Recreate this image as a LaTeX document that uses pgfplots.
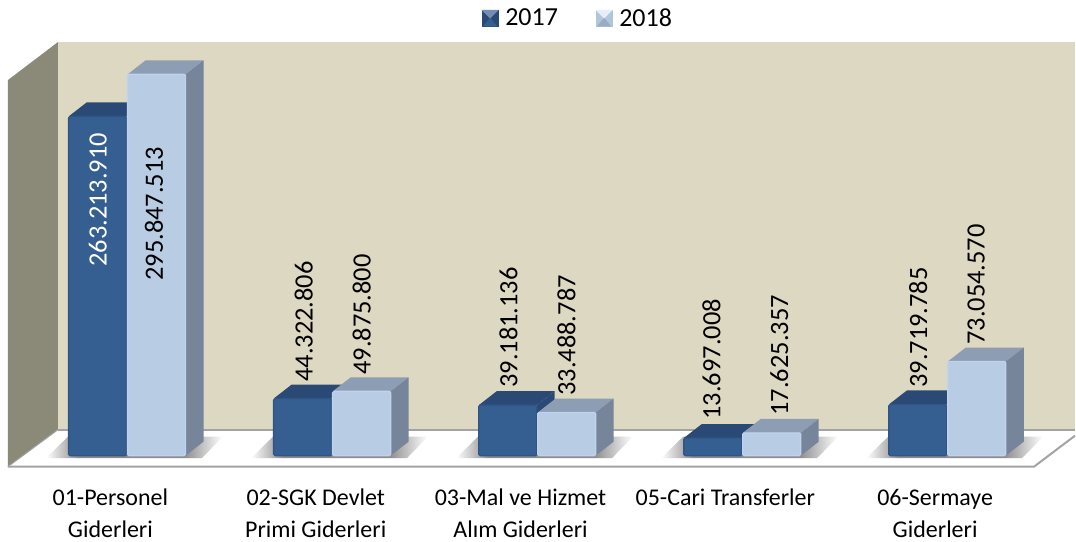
\documentclass[border=0pt]{standalone}
\usepackage{fontspec}
\setmainfont{Carlito}
\usepackage{pgfplots}
\pgfplotsset{compat=1.18}

\definecolor{wallback}{HTML}{DDD8C2}
\definecolor{wallside}{HTML}{8B8A78}
\definecolor{edgegray}{HTML}{A3A3A3}
\definecolor{bluefront}{HTML}{365F91}
\definecolor{blueedge}{HTML}{2F5585}
\definecolor{bluetop}{HTML}{2A4A75}
\definecolor{blueside}{HTML}{2A4A75}
\definecolor{lightfront}{HTML}{B8CCE4}
\definecolor{lightedge}{HTML}{BFD3EE}
\definecolor{lighttop}{HTML}{8D9DB3}
\definecolor{lightside}{HTML}{76859A}

\pgfdeclarehorizontalshading{floorshadow}{100bp}{
  color(0bp)=(white); color(25bp)=(white); color(34bp)=(black!45);
  color(64bp)=(black!45); color(75bp)=(white); color(100bp)=(white)}

% y is in millions, 1.29 px per million, floor line of the bars at pixel 456
\newcommand{\py}[1]{(456-#1)/1.29}

\newcommand{\shadow}[1]{%
  \pgfmathsetmacro\xa{#1-22}\pgfmathsetmacro\xb{#1+134}\pgfmathsetmacro\xc{#1+155}\pgfmathsetmacro\xd{#1}
  \pgfmathsetmacro\ya{\py{458.5}}\pgfmathsetmacro\yb{\py{437}}
  \addplot[forget plot,draw=none,shade,shading=floorshadow,no markers]
    coordinates {(\xa,\ya) (\xb,\ya) (\xc,\yb) (\xd,\yb)} -- cycle;
}

\newcommand{\cbar}[3]{% left, value, colour prefix
  \pgfmathsetmacro\xa{#1+0.7}\pgfmathsetmacro\xb{#1+58.7}
  \pgfmathsetmacro\xc{#1+18.7}\pgfmathsetmacro\xd{#1+76.7}
  \pgfmathsetmacro\yt{#2}\pgfmathsetmacro\yu{#2+14/1.29}
  \pgfmathsetmacro\yf{0}\pgfmathsetmacro\yg{14/1.29}
  \addplot[forget plot,fill=#3top,draw=none,no markers]
    coordinates {(\xa,\yt) (\xc,\yu) (\xd,\yu) (\xb,\yt)} -- cycle;
  \addplot[forget plot,fill=#3side,draw=none,no markers]
    coordinates {(\xb,\yt) (\xd,\yu) (\xd,\yg) (\xb,\yf)} -- cycle;
  \addplot[forget plot,fill=#3front,draw=#3edge,line width=1.4pt,rounded corners=1.5pt,no markers]
    coordinates {(\xa,\yf) (\xa,\yt) (\xb,\yt) (\xb,\yf)} -- cycle;
}

\newcommand{\vlab}[4]{% x, bottom pixel, colour, text
  \node[rotate=90,anchor=west,inner sep=0pt,text=#3,font=\fontsize{26.4}{28}\selectfont] at (axis cs:#1,{(456-#2)/1.29}) {#4};
}

\begin{document}
\begin{tikzpicture}
\begin{axis}[
  scale only axis,
  width=1076pt, height=542pt,
  xmin=0, xmax=1076,
  ymin=-66.6667, ymax=353.4884,
  axis line style={draw=none},
  major tick length=0pt,
  ytick=\empty,
  xtick={110.5,316,521,726,936},
  xticklabels={{01-Personel\\Giderleri},{02-SGK Devlet\\Primi Giderleri},{03-Mal ve Hizmet\\Alım Giderleri},{05-Cari Transferler},{06-Sermaye\\Giderleri}},
  x tick label style={align=center,anchor=north,yshift=52.5pt,inner sep=0pt,
    font=\fontsize{24}{31.5}\selectfont},
  legend style={at={(axis cs:578.5,339.5)},anchor=center,draw=none,fill=none,
    legend columns=2,inner sep=0pt,font=\fontsize{26}{28}\selectfont,
    /tikz/every even column/.append style={column sep=36pt},
    /tikz/every odd column/.append style={column sep=5pt}},
  legend cell align=left,
  clip=false,
]
\addlegendimage{legend image code/.code={
  \fill[bluetop] (0,-8pt) rectangle (16pt,8pt);
  \fill[bluefront] (1.5pt,-8pt) -- (8pt,0pt) -- (14.5pt,-8pt) -- cycle;
  \fill[bluefront!70!white] (0,8pt) -- (8pt,0pt) -- (16pt,8pt) -- cycle;}}
\addlegendentry{2017}
\addlegendimage{legend image code/.code={
  \fill[lightfront!85!lighttop] (0,-8pt) rectangle (16pt,8pt);
  \fill[lighttop!70!lightfront] (1.5pt,-8pt) -- (8pt,0pt) -- (14.5pt,-8pt) -- cycle;
  \fill[lightfront!35!white] (0,8pt) -- (8pt,0pt) -- (16pt,8pt) -- cycle;}}
\addlegendentry{2018}

% walls and floor
\addplot[forget plot,fill=wallback,draw=none,no markers] coordinates {(58,320.93) (1076,320.93) (1076,20.16) (58,20.16)} -- cycle;
\addplot[forget plot,fill=wallside,draw=none,no markers] coordinates {(8,291.47) (58,320.93) (58,20.16) (8,-8.53)} -- cycle;
\addplot[forget plot,fill=white,draw=none,no markers] coordinates {(8,-8.53) (58,20.16) (1076,20.16) (1076,15.5) (1035,-8.53)} -- cycle;
\addplot[forget plot,draw=edgegray,line width=2pt,no markers] coordinates {(58,20.16) (1076,20.16)};
\addplot[forget plot,draw=edgegray,line width=2pt,no markers] coordinates {(8,-8.53) (1035,-8.53) (1076,15.5)};
\addplot[forget plot,draw=edgegray,line width=1pt,no markers] coordinates {(8,-8.53) (58,20.16)};

\shadow{68}\shadow{273.25}\shadow{478.5}\shadow{683.75}\shadow{889}

\cbar{68}{263.21391}{blue}\cbar{127}{295.847513}{light}
\cbar{273.25}{44.322806}{blue}\cbar{332.25}{49.8758}{light}
\cbar{478.5}{39.181136}{blue}\cbar{537.5}{33.488787}{light}
\cbar{683.75}{13.697008}{blue}\cbar{742.75}{17.625357}{light}
\cbar{889}{39.719785}{blue}\cbar{948}{73.05457}{light}

\vlab{98}{267}{white}{263.213.910}
\vlab{154}{281}{black}{295.847.513}
\vlab{304}{382}{black}{44.322.806}
\vlab{362}{375}{black}{49.875.800}
\vlab{509}{388}{black}{39.181.136}
\vlab{567}{396}{black}{33.488.787}
\vlab{712}{420}{black}{13.697.008}
\vlab{780}{416}{black}{17.625.357}
\vlab{919}{388}{black}{39.719.785}
\vlab{977}{345}{black}{73.054.570}
\end{axis}
\end{tikzpicture}
\end{document}
